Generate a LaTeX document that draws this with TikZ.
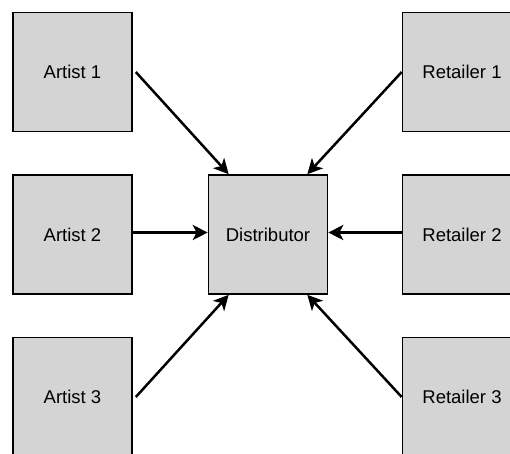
\documentclass[tikz,border=0pt]{standalone}
\usepackage{fontspec}
\setmainfont{Liberation Sans}
\usetikzlibrary{arrows.meta}

\begin{document}
\begin{tikzpicture}[x=1pt,y=-1pt,
  box/.style={draw=black,fill=black!17,line width=1.6pt,minimum size=119pt,inner sep=0pt,font=\fontsize{18.5}{22}\selectfont},
  link/.style={line width=2.5pt,-{Stealth[length=15pt,width=15pt,inset=4pt]}}]
\clip (0,0) rectangle (510,453);
\node[box] (A1) at (72.5,72) {Artist 1};
\node[box] (A2) at (72.5,234.5) {Artist 2};
\node[box] (A3) at (72.5,397) {Artist 3};
\node[box] (D) at (268,234.5) {Distributor};
\node[box] (R1) at (462,72) {Retailer 1};
\node[box] (R2) at (462,234.5) {Retailer 2};
\node[box] (R3) at (462,397) {Retailer 3};
\draw[link] ([xshift=3pt]A1.east) -- ([xshift=21pt]D.north west);
\draw[link] ([yshift=2pt]A2.east) -- ([yshift=2pt]D.west);
\draw[link] ([xshift=3pt]A3.east) -- ([xshift=21pt]D.south west);
\draw[link] (R1.west) -- ([xshift=-21pt]D.north east);
\draw[link] ([yshift=2pt]R2.west) -- ([yshift=2pt]D.east);
\draw[link] (R3.west) -- ([xshift=-21pt]D.south east);
\end{tikzpicture}
\end{document}
